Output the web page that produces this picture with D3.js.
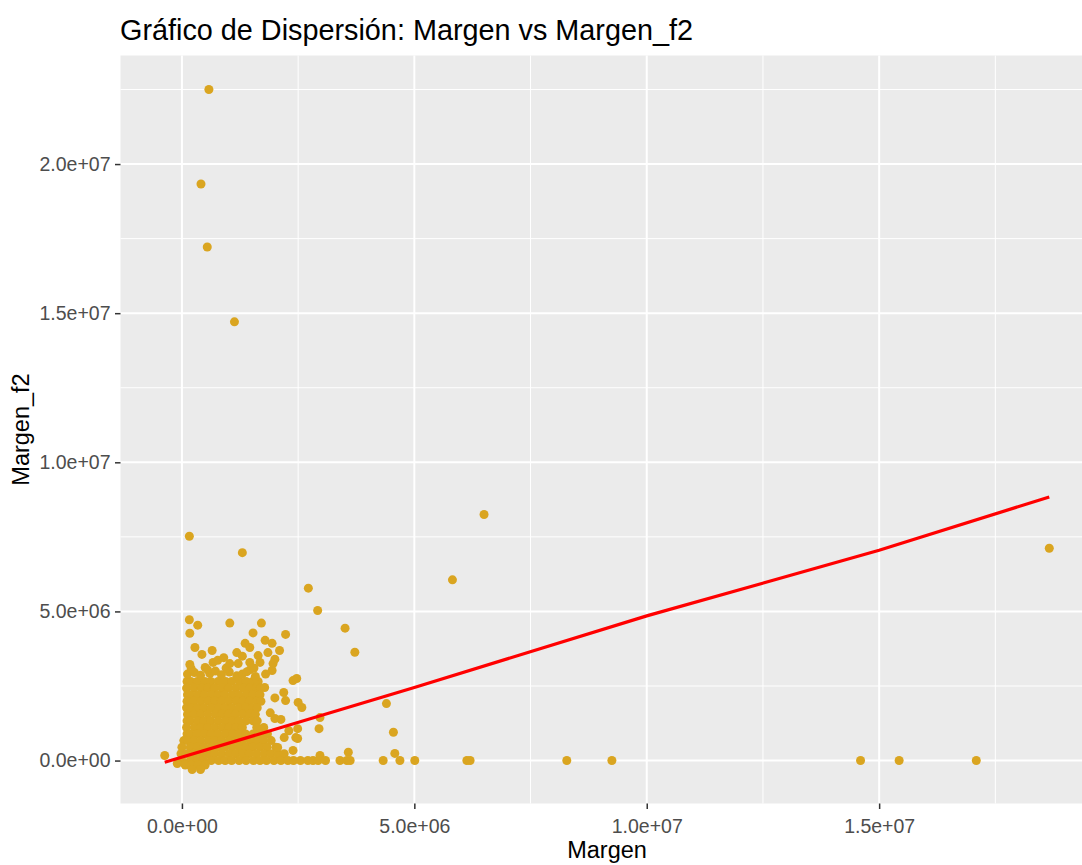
<!DOCTYPE html>
<html>
<head>
<meta charset="utf-8">
<script src="https://cdnjs.cloudflare.com/ajax/libs/d3/7.8.5/d3.min.js"></script>
<style>
  body { margin: 0; background: #fff; }
  svg text { font-family: "Liberation Sans", Arial, sans-serif; }
</style>
</head>
<body>
<div id="grafico"></div>
<script>
// todos los valores en millones (se multiplican por 1e6 al dibujar)

// nube densa: un valor de Margen_f2 por fila y los Margen de esa fila
var filasF2 = [2.65, 2.43, 2.21, 1.99, 1.77, 1.55, 1.33, 1.11, 0.89, 0.67, 0.45, 0.23, 0, -0.15, -0.3];
var filasMargen = [
  [0.11, 0.19, 0.33, 0.49, 0.62, 0.78, 0.94, 1.07, 1.24, 1.38, 1.52, 1.64],
  [0.1, 0.26, 0.42, 0.56, 0.7, 0.86, 1.0, 1.16, 1.32, 1.46, 1.6, 1.69],
  [0.12, 0.18, 0.34, 0.48, 0.64, 0.78, 0.92, 1.08, 1.23, 1.39, 1.53, 1.68],
  [0.11, 0.25, 0.41, 0.57, 0.71, 0.85, 1.01, 1.17, 1.31, 1.45, 1.61, 1.7],
  [0.1, 0.19, 0.33, 0.47, 0.63, 0.79, 0.93, 1.07, 1.23, 1.38, 1.52, 1.62],
  [0.12, 0.26, 0.4, 0.56, 0.72, 0.86, 1.0, 1.15, 1.31, 1.46, 1.58],
  [0.11, 0.18, 0.34, 0.48, 0.62, 0.78, 0.94, 1.08, 1.22, 1.38, 1.53, 1.62],
  [0.1, 0.27, 0.41, 0.55, 0.71, 0.87, 1.01, 1.16, 1.3, 1.61, 1.76],
  [0.11, 0.18, 0.33, 0.49, 0.63, 0.77, 0.93, 1.09, 1.23, 1.37, 1.53, 1.68, 1.84],
  [0.04, 0.12, 0.26, 0.41, 0.57, 0.71, 0.85, 1.01, 1.16, 1.31, 1.47, 1.61, 1.76, 1.92],
  [0.0, 0.18, 0.33, 0.48, 0.64, 0.78, 0.92, 1.08, 1.24, 1.38, 1.52, 1.68, 1.83, 2.02],
  [-0.02, 0.11, 0.26, 0.42, 0.56, 0.7, 0.86, 1.02, 1.16, 1.31, 1.45, 1.61, 1.77, 1.91, 2.06, 2.2],
  [0.0, 0.18, 0.33, 0.47, 0.63, 0.79, 0.93, 1.07, 1.23, 1.38, 1.54, 1.68, 1.82, 1.98, 2.13, 2.28, 2.4, 2.55],
  [0.07, 0.21, 0.35, 0.5],
  [0.22, 0.4]
];

// puntos sueltos alrededor de la nube y atipicos
var margen = [
  0.12, 0.27, 0.4, 0.6, 0.72, 0.85, 1.02, 1.18, 1.3, 1.47, 1.58, 0.2, 0.5, 0.95, 1.4,
  0.16, 0.34, 0.17, 1.03, 1.71, 1.53, 2.23, 1.79,
  0.28, 0.43, 0.65, 1.18, 1.36, 1.46, 1.64, 1.85, 1.94, 2.1,
  0.17, 0.67, 0.77, 1.03, 1.21, 1.46, 1.68, 1.96, 1.94, 0.9, 1.3, 1.55, 2.0, 0.55, 1.8,
  2.39, 2.47, 1.78, 2.19, 2.23, 2.5, 2.58, 2.13, 2.0, 2.2, 2.45, 2.39, 2.06, 2.97, 2.95,
  2.49, 2.49, 2.97, 3.58, 4.58, 4.4, 4.55, 2.3, 1.9, 2.0,
  2.71, 2.82, 2.93, 3.09, 3.4, 3.55, 3.62, 4.33, 4.69, 5.01, 6.13, 6.2, 8.28, 9.25, 14.6, 15.43, 17.09,
  2.72, 2.92, 3.51, 3.72, 5.82, 6.5, 18.66, 0.16, 1.3, 1.13, 0.545, 0.41, 0.58,
  -0.37, -0.1
];
var margenF2 = [
  2.9, 2.95, 2.86, 2.92, 3.0, 2.88, 2.97, 2.84, 2.9, 3.05, 2.82, 3.08, 3.12, 3.1, 2.98,
  4.72, 4.54, 4.27, 4.61, 4.61, 4.28, 4.23, 4.03,
  3.79, 3.56, 3.69, 3.62, 3.93, 3.79, 3.52, 3.62, 3.93, 3.69,
  3.22, 3.29, 3.36, 3.25, 3.25, 3.29, 3.29, 3.25, 3.02, 3.45, 3.5, 3.1, 3.4, 3.05, 2.9,
  2.68, 2.75, 2.45, 2.28, 2.01, 1.95, 1.78, 1.38, 1.41, 0.77, 0.77, 0.34, 0.44, 1.44, 1.07,
  1.07, 0.74, 0.17, 0.28, 0.24, 1.91, 0.95, 1.0, 1.6, 2.1,
  0, 0, 0, 0, 0, 0, 0, 0, 0, 0, 0, 0, 0, 0, 0, 0, 0,
  5.78, 5.03, 4.44, 3.63, 6.06, 8.25, 7.12, 7.52, 6.97, 14.71, 17.22, 19.33, 22.5,
  0.17, -0.1
];

// linea de ajuste (valores predichos)
var ajusteMargen = [-0.37, 5, 10, 15, 18.66];
var ajusteF2 = [-0.06, 2.45, 4.85, 7.05, 8.84];

var ticksX = [0, 5e6, 1e7, 1.5e7];
var etiquetasX = ["0.0e+00", "5.0e+06", "1.0e+07", "1.5e+07"];
var ticksY = [0, 5e6, 1e7, 1.5e7, 2e7];
var etiquetasY = ["0.0e+00", "5.0e+06", "1.0e+07", "1.5e+07", "2.0e+07"];

var width = 1082, height = 865;
var marge = {top: 55.5, left: 120.5};
var anchoPanel = 973, altoPanel = 748;

var svg = d3.select('#grafico')
  .append('svg')
  .attr('width', width)
  .attr('height', height);

var puntos = [];
filasF2.forEach(function(f, i) {
  filasMargen[i].forEach(function(m) { puntos.push([m * 1e6, f * 1e6]); });
});
margen.forEach(function(m, i) { puntos.push([m * 1e6, margenF2[i] * 1e6]); });

// limites con expansion del 5% como ggplot
var ex = d3.extent(puntos, function(d) { return d[0]; });
var ey = d3.extent(puntos, function(d) { return d[1]; });
var px = (ex[1] - ex[0]) * 0.05, py = (ey[1] - ey[0]) * 0.05;

var x = d3.scaleLinear().domain([ex[0] - px, ex[1] + px]).range([0, anchoPanel]);
var y = d3.scaleLinear().domain([ey[0] - py, ey[1] + py]).range([altoPanel, 0]);

var g = svg.append('g')
  .attr('transform', 'translate(' + marge.left + ',' + marge.top + ')');

g.append('rect')
  .attr('width', anchoPanel)
  .attr('height', altoPanel)
  .attr('fill', '#ebebeb');

var menoresX = ticksX.map(function(t) { return t + 2.5e6; });
var menoresY = ticksY.map(function(t) { return t + 2.5e6; });

// rejilla menor
g.selectAll('.menorX').data(menoresX).enter().append('line')
  .attr('x1', function(d) { return x(d); }).attr('x2', function(d) { return x(d); })
  .attr('y1', 0).attr('y2', altoPanel)
  .attr('stroke', '#fff').attr('stroke-width', 1);
g.selectAll('.menorY').data(menoresY).enter().append('line')
  .attr('y1', function(d) { return y(d); }).attr('y2', function(d) { return y(d); })
  .attr('x1', 0).attr('x2', anchoPanel)
  .attr('stroke', '#fff').attr('stroke-width', 1);

// rejilla mayor
g.selectAll('.mayorX').data(ticksX).enter().append('line')
  .attr('x1', function(d) { return x(d); }).attr('x2', function(d) { return x(d); })
  .attr('y1', 0).attr('y2', altoPanel)
  .attr('stroke', '#fff').attr('stroke-width', 2);
g.selectAll('.mayorY').data(ticksY).enter().append('line')
  .attr('y1', function(d) { return y(d); }).attr('y2', function(d) { return y(d); })
  .attr('x1', 0).attr('x2', anchoPanel)
  .attr('stroke', '#fff').attr('stroke-width', 2);

// puntos
g.selectAll('circle')
  .data(puntos)
  .enter()
  .append('circle')
  .attr('cx', function(d) { return x(d[0]); })
  .attr('cy', function(d) { return y(d[1]); })
  .attr('r', 4.5)
  .attr('fill', '#daa520');

// linea roja
var linea = d3.line()
  .x(function(d, i) { return x(ajusteMargen[i] * 1e6); })
  .y(function(d) { return y(d * 1e6); });

g.append('path')
  .datum(ajusteF2)
  .attr('d', linea)
  .style('fill', 'none')
  .style('stroke', '#ff0000')
  .style('stroke-width', 3.2);

// ejes
var axisX = d3.axisBottom(x)
  .tickValues(ticksX)
  .tickFormat(function(d, i) { return etiquetasX[i]; })
  .tickSize(5.5)
  .tickPadding(10);
var axisXG = g.append('g')
  .attr('transform', 'translate(0,' + altoPanel + ')')
  .call(axisX);

var axisY = d3.axisLeft(y)
  .tickValues(ticksY)
  .tickFormat(function(d, i) { return etiquetasY[i]; })
  .tickSize(5.5)
  .tickPadding(4.5);
var axisYG = g.append('g').call(axisY);

[axisXG, axisYG].forEach(function(a) {
  a.select('.domain').remove();
  a.selectAll('line').attr('stroke', '#333333').attr('stroke-width', 1.5);
  a.selectAll('text')
    .attr('fill', '#4d4d4d')
    .style('font-size', '19.5px')
    .style('font-family', '"Liberation Sans", Arial, sans-serif');
});

// titulos
svg.append('text')
  .attr('x', 120)
  .attr('y', 39.5)
  .attr('fill', '#000')
  .style('font-size', '28.8px')
  .text('Gráfico de Dispersión: Margen vs Margen_f2');

svg.append('text')
  .attr('x', 607)
  .attr('y', 858)
  .attr('text-anchor', 'middle')
  .attr('fill', '#000')
  .style('font-size', '23.5px')
  .text('Margen');

svg.append('text')
  .attr('transform', 'translate(28.5,' + (marge.top + altoPanel / 2) + ') rotate(-90)')
  .attr('text-anchor', 'middle')
  .attr('fill', '#000')
  .style('font-size', '23.5px')
  .text('Margen_f2');
</script>
</body>
</html>
